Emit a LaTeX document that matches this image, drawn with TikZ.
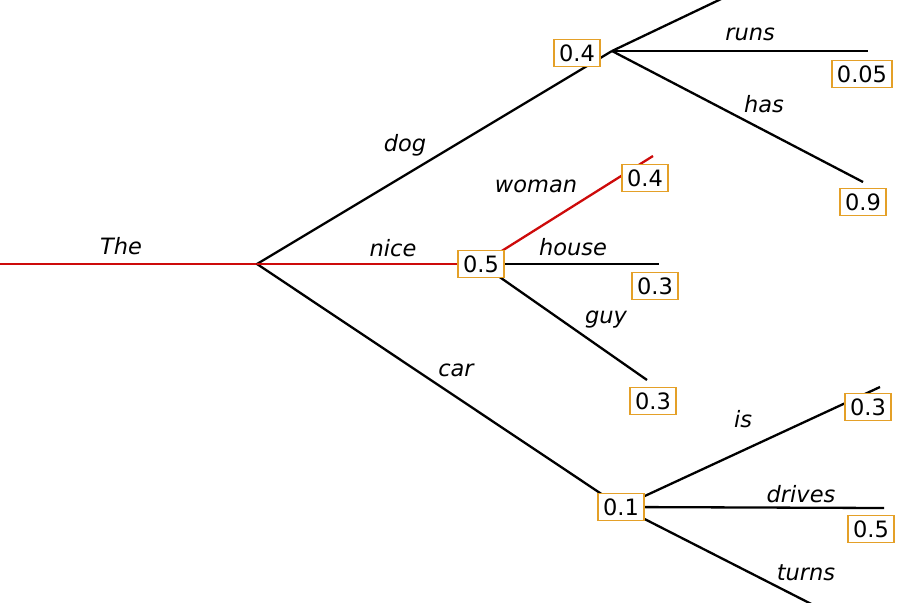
\documentclass[tikz,border=0pt]{standalone}
\usepackage{fontspec}
\setmainfont{DejaVu Sans}
\definecolor{boxgold}{RGB}{228,160,40}
\definecolor{pathred}{RGB}{205,10,10}
\begin{document}
\begin{tikzpicture}[x=1pt,y=-1pt,
  edge/.style={line width=2.3pt,black},
  best/.style={line width=2.3pt,pathred},
  prob/.style={draw=boxgold,line width=1.6pt,fill=white,
    font=\fontsize{22.5}{26}\selectfont,inner xsep=5pt,inner ysep=5.5pt,
    text height=16pt,text depth=0pt},
  word/.style={font=\fontsize{22.5}{26}\selectfont\itshape,inner sep=0pt}]
\useasboundingbox (0,0) rectangle (904,602);
\clip (0,0) rectangle (904,602);

% branch points and loose ends
\coordinate (start) at (0,264);
\coordinate (root) at (257,264);
\coordinate (dogfork) at (612,51);
\coordinate (e-top) at (740,-10);
\coordinate (e-runs) at (868,51);
\coordinate (e-has) at (863,182);
\coordinate (e-woman) at (653,156);
\coordinate (e-house) at (659,264);
\coordinate (e-guy) at (647,380);
\coordinate (e-is) at (880,387);
\coordinate (e-drives) at (884,508);
\coordinate (e-turns) at (827,612);

% connectors
\draw[best] (start) -- (root);
\draw[edge] (root) -- (dogfork);
\draw[edge] (root) -- (621,507) coordinate (carfork);
\draw[best] (root) -- (481,264) coordinate (nicefork);
\draw[edge] (dogfork) -- (e-top);
\draw[edge] (dogfork) -- (e-runs);
\draw[edge] (dogfork) -- (e-has);
\draw[best] (nicefork) -- (e-woman);
\draw[edge] (nicefork) -- (e-house);
\draw[edge] (nicefork) -- (e-guy);
\draw[edge] (carfork) -- (e-is);
\draw[edge] (carfork) -- (e-drives);
\draw[edge] (carfork) -- (e-turns);

% probability boxes
\node[prob] (p-dog) at (577,53) {0.4};
\node[prob] (p-nice) at (nicefork) {0.5};
\node[prob] (p-car) at (carfork) {0.1};
\node[prob] (p-runs) at (862,74) {0.05};
\node[prob] (p-has) at (863,202) {0.9};
\node[prob] (p-woman) at (645,178) {0.4};
\node[prob] (p-house) at (655,286) {0.3};
\node[prob] (p-guy) at (653,401) {0.3};
\node[prob] (p-is) at (868,407) {0.3};
\node[prob] (p-drives) at (871,529) {0.5};

% word labels
\node[word] (w-the) at (121,246) {The};
\node[word] (w-dog) at (405,145) {dog};
\node[word] (w-nice) at (393,248) {nice};
\node[word] (w-car) at (456,370) {car};
\node[word] (w-runs) at (750,34) {runs};
\node[word] (w-has) at (764,104) {has};
\node[word] (w-woman) at (536,186) {woman};
\node[word] (w-house) at (573,247) {house};
\node[word] (w-guy) at (606,320) {guy};
\node[word] (w-is) at (743,419) {is};
\node[word] (w-drives) at (801,494) {drives};
\node[word] (w-turns) at (806,573) {turns};
\end{tikzpicture}
\end{document}
